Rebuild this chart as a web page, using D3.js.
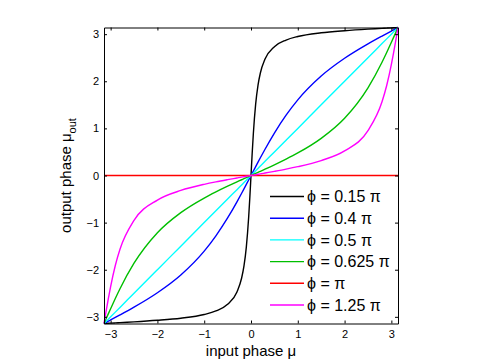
<!DOCTYPE html>
<html>
<head>
<meta charset="utf-8">
<script src="https://cdn.jsdelivr.net/npm/d3@7"></script>
<style>
  body { margin: 0; background: #fff; }
  svg { display: block; font-family: "Liberation Sans", Arial, sans-serif; }
</style>
</head>
<body>
<svg id="chart"></svg>
<script>
// input phase samples (radians)
const mu = [-3.1416, -3.1, -3.05, -3.0, -2.9, -2.8, -2.5, -2.0, -1.5, -1.0, -0.75, -0.5, -0.3, -0.2, -0.15, -0.1, -0.05, -0.025, 0,
  0.025, 0.05, 0.1, 0.15, 0.2, 0.3, 0.5, 0.75, 1.0, 1.5, 2.0, 2.5, 2.8, 2.9, 3.0, 3.05, 3.1, 3.1416];

// output phase for each phi
const phi015 = [-3.1416, -3.139, -3.137, -3.134, -3.129, -3.123, -3.107, -3.074, -3.029, -2.950, -2.875, -2.735, -2.471, -2.176, -1.920, -1.520, -0.887, -0.466, 0,
  0.466, 0.887, 1.520, 1.920, 2.176, 2.471, 2.735, 2.875, 2.950, 3.029, 3.074, 3.107, 3.123, 3.129, 3.134, 3.137, 3.139, 3.1416];
const phi04 = [-3.1416, -3.120, -3.093, -3.067, -3.014, -2.960, -2.794, -2.488, -2.111, -1.605, -1.280, -0.901, -0.558, -0.376, -0.283, -0.189, -0.095, -0.047, 0,
  0.047, 0.095, 0.189, 0.283, 0.376, 0.558, 0.901, 1.280, 1.605, 2.111, 2.488, 2.794, 2.960, 3.014, 3.067, 3.093, 3.120, 3.1416];
const phi05 = [-3.1416, -3.1, -3.05, -3.0, -2.9, -2.8, -2.5, -2.0, -1.5, -1.0, -0.75, -0.5, -0.3, -0.2, -0.15, -0.1, -0.05, -0.025, 0,
  0.025, 0.05, 0.1, 0.15, 0.2, 0.3, 0.5, 0.75, 1.0, 1.5, 2.0, 2.5, 2.8, 2.9, 3.0, 3.05, 3.1, 3.1416];
const phi0625 = [-3.1416, -3.048, -2.937, -2.827, -2.611, -2.404, -1.862, -1.215, -0.788, -0.478, -0.348, -0.227, -0.135, -0.090, -0.067, -0.045, -0.022, -0.011, 0,
  0.011, 0.022, 0.045, 0.067, 0.090, 0.135, 0.227, 0.348, 0.478, 0.788, 1.215, 1.862, 2.404, 2.611, 2.827, 2.937, 3.048, 3.1416];
const phi1 = [0, 0, 0, 0, 0, 0, 0, 0, 0, 0, 0, 0, 0, 0, 0, 0, 0, 0, 0,
  0, 0, 0, 0, 0, 0, 0, 0, 0, 0, 0, 0, 0, 0, 0, 0, 0, 0];
const phi125 = [-3.1416, -2.900, -2.620, -2.358, -1.910, -1.566, -0.953, -0.522, -0.317, -0.187, -0.135, -0.088, -0.052, -0.034, -0.026, -0.017, -0.009, -0.004, 0,
  0.004, 0.009, 0.017, 0.026, 0.034, 0.052, 0.088, 0.135, 0.187, 0.317, 0.522, 0.953, 1.566, 1.910, 2.358, 2.620, 2.900, 3.1416];

const seriesLabels = ['ϕ = 0.15 π', 'ϕ = 0.4 π', 'ϕ = 0.5 π', 'ϕ = 0.625 π', 'ϕ = π', 'ϕ = 1.25 π'];
const seriesValues = [phi015, phi04, phi05, phi0625, phi1, phi125];
const tickValues = [-3, -2, -1, 0, 1, 2, 3];

const width = 485, height = 364;
const plot = { left: 104, right: 398, top: 27.5, bottom: 323.5 };

const svg = d3.select('#chart')
  .attr('width', width)
  .attr('height', height);

// scales
const x = d3.scaleLinear().domain([-Math.PI, Math.PI]).range([plot.left, plot.right]);
const y = d3.scaleLinear().domain([-Math.PI, Math.PI]).range([plot.bottom, plot.top]);

const color = d3.scaleOrdinal()
  .domain(seriesLabels)
  .range(['#000000', '#0000ff', '#00ffff', '#00bf00', '#ff0000', '#ff00ff']);

// curves
const line = d3.line()
  .x((d, i) => x(mu[i]))
  .y(d => y(d))
  .curve(d3.curveMonotoneX);

seriesValues.forEach((vals, i) => {
  svg.append('path')
    .datum(vals)
    .attr('fill', 'none')
    .attr('stroke', color(seriesLabels[i]))
    .attr('stroke-width', 1.4)
    .attr('d', line);
});

// axes (matlab style box, ticks pointing in)
const fmt = d3.format('d');

function styleAxis(g) {
  g.selectAll('.domain').attr('stroke', '#000').attr('stroke-width', 1);
  g.selectAll('.tick line').attr('stroke', '#000');
  g.selectAll('.tick text').attr('fill', '#000').style('font-size', '11px')
    .style('font-family', '"Liberation Sans", Arial, sans-serif');
}

svg.append('g')
  .attr('transform', `translate(0, ${plot.bottom})`)
  .call(d3.axisBottom(x).tickValues(tickValues).tickFormat(fmt).tickSize(-3).tickSizeOuter(0).tickPadding(7))
  .call(styleAxis);

svg.append('g')
  .attr('transform', `translate(0, ${plot.top})`)
  .call(d3.axisTop(x).tickValues(tickValues).tickSize(-3).tickSizeOuter(0).tickFormat(''))
  .call(styleAxis);

svg.append('g')
  .attr('transform', `translate(${plot.left}, 0)`)
  .call(d3.axisLeft(y).tickValues(tickValues).tickFormat(fmt).tickSize(-3).tickSizeOuter(0).tickPadding(5))
  .call(styleAxis);

svg.append('g')
  .attr('transform', `translate(${plot.right}, 0)`)
  .call(d3.axisRight(y).tickValues(tickValues).tickSize(-3).tickSizeOuter(0).tickFormat(''))
  .call(styleAxis);

// axis titles
svg.append('text')
  .attr('x', (plot.left + plot.right) / 2)
  .attr('y', 356)
  .attr('text-anchor', 'middle')
  .style('font-size', '15px')
  .text('input phase μ');

const yTitle = svg.append('text')
  .attr('transform', `translate(71, ${(plot.top + plot.bottom) / 2}) rotate(-90)`)
  .attr('text-anchor', 'middle')
  .style('font-size', '15px');
yTitle.append('tspan').text('output phase μ');
yTitle.append('tspan').attr('dy', 5).style('font-size', '11px').text('out');

// legend
const legend = svg.append('g')
  .attr('transform', 'translate(270, 196.5)');

seriesLabels.forEach((label, i) => {
  const row = legend.append('g').attr('transform', `translate(0, ${i * 21.7})`);
  row.append('line')
    .attr('x1', 0).attr('x2', 34)
    .attr('y1', 0).attr('y2', 0)
    .attr('stroke', color(label))
    .attr('stroke-width', 1.4);
  row.append('text')
    .attr('x', 37)
    .attr('y', 0)
    .attr('dy', '0.36em')
    .style('font-size', '16px')
    .text(label);
});
</script>
</body>
</html>
